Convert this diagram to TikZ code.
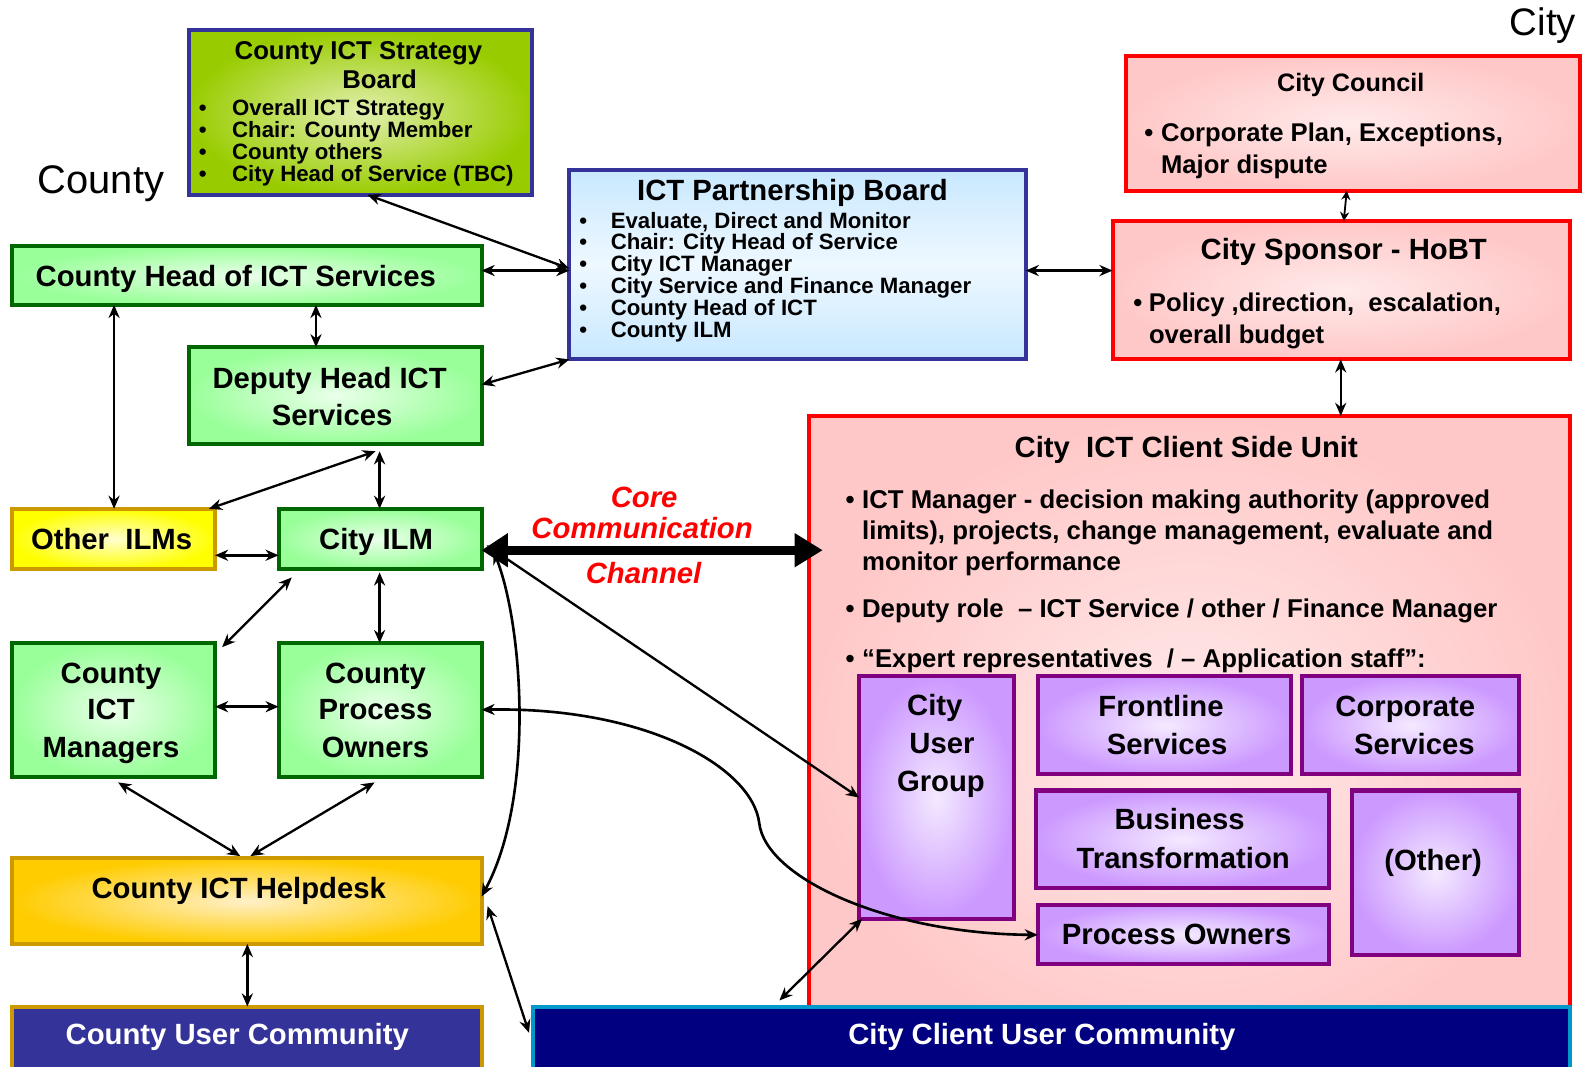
\documentclass[tikz,border=0pt]{standalone}
\usepackage{fontspec}
\setmainfont{Liberation Sans}
\usetikzlibrary{arrows.meta,calc}
\definecolor{grO}{HTML}{99FF99}
\definecolor{grI}{HTML}{EAFFEA}
\definecolor{grB}{HTML}{006600}
\definecolor{stO}{HTML}{99CC00}
\definecolor{stI}{HTML}{E2F0B0}
\definecolor{navB}{HTML}{333399}
\definecolor{blO}{HTML}{C8E8FF}
\definecolor{blI}{HTML}{EEF8FF}
\definecolor{pkO}{HTML}{FFC8C8}
\definecolor{pkI}{HTML}{FFEAEA}
\definecolor{rdB}{HTML}{FF0000}
\definecolor{puO}{HTML}{CC99FF}
\definecolor{puI}{HTML}{F4EAFF}
\definecolor{puB}{HTML}{800080}
\definecolor{yeO}{HTML}{FFFF00}
\definecolor{yeI}{HTML}{FFFFD0}
\definecolor{goO}{HTML}{FFCC00}
\definecolor{goI}{HTML}{FFF0C8}
\definecolor{goB}{HTML}{CC9900}
\definecolor{cucF}{HTML}{333399}
\definecolor{ccF}{HTML}{000080}
\definecolor{ccB}{HTML}{0099CC}
\definecolor{coreR}{HTML}{FF0000}
\newcommand\fsz[2]{\fontsize{#1pt}{#2pt}\selectfont}
\begin{document}
\begin{tikzpicture}[x=1pt,y=-1pt,
  >={Stealth[length=13pt,width=11pt]},
  box/.style={rectangle,anchor=north west,inner sep=0pt,outer sep=0pt,line width=4pt},
  greenbox/.style={box,draw=grB,inner color=grI,outer color=grO},
  stratbox/.style={box,draw=navB,inner color=stI,outer color=stO},
  bluebox/.style={box,draw=navB,top color=blO,bottom color=blO,middle color=blI},
  pinkbox/.style={box,draw=rdB,inner color=pkI,outer color=pkO},
  purplebox/.style={box,draw=puB,inner color=puI,outer color=puO},
  yellowbox/.style={box,draw=goB,inner color=yeI,outer color=yeO},
  goldbox/.style={box,draw=goB,inner color=goI,outer color=goO},
  txt/.style={inner sep=0pt,outer sep=0pt,anchor=base},
  blk/.style={inner sep=0pt,outer sep=0pt,anchor=north west,align=left},
  ttl/.style={txt,font=\bfseries\fsz{29}{37}},
  arr/.style={<->,line width=2.3pt},
  smallarr/.style={arrows={Stealth[length=9pt,width=9pt]-Stealth[length=9pt,width=9pt]},line width=1.8pt},
  core/.style={arrows={Triangle[length=26pt,width=32pt]-Triangle[length=28pt,width=32pt]},line width=9pt},
  corelbl/.style={txt,font=\bfseries\itshape\fsz{29}{37},text=coreR},
]
\path[use as bounding box] (0,0) rectangle (1568,1056);

% ---------- boxes ----------
\node[stratbox,minimum width=340pt,minimum height=163pt] (csb) at (187,30) {};
\node[bluebox,minimum width=452pt,minimum height=188pt] (ipb) at (564,168) {};
\node[pinkbox,minimum width=450pt,minimum height=134pt] (cc) at (1115,55) {};
\node[pinkbox,minimum width=453pt,minimum height=137pt] (cs) at (1102,219) {};
\node[pinkbox,minimum width=754pt,minimum height=640pt] (csu) at (801,412) {};
\node[purplebox,minimum width=153pt,minimum height=240pt] (cug) at (851,670) {};
\node[purplebox,minimum width=251pt,minimum height=97pt] (fs) at (1028,670) {};
\node[purplebox,minimum width=215pt,minimum height=97pt] (cps) at (1290,670) {};
\node[purplebox,minimum width=290pt,minimum height=97pt] (bt) at (1026,783) {};
\node[purplebox,minimum width=166pt,minimum height=163pt] (oth) at (1339,783) {};
\node[purplebox,minimum width=288pt,minimum height=59pt] (po) at (1028,896) {};
\node[box,draw=ccB,fill=ccF,minimum width=1027pt,minimum height=70pt] (ccuc) at (528,997) {};
\node[greenbox,minimum width=465pt,minimum height=58pt] (chead) at (12,244) {};
\node[greenbox,minimum width=290pt,minimum height=96pt] (dhead) at (187,344) {};
\node[yellowbox,minimum width=201pt,minimum height=60pt] (oilm) at (12,504) {};
\node[greenbox,minimum width=201pt,minimum height=60pt] (cilm) at (276,504) {};
\node[greenbox,minimum width=201pt,minimum height=133pt] (cim) at (12,637) {};
\node[greenbox,minimum width=201pt,minimum height=133pt] (cpo) at (276,637) {};
\node[goldbox,minimum width=465pt,minimum height=85pt] (help) at (12,850) {};
\node[box,draw=goB,fill=cucF,minimum width=465pt,minimum height=70pt] (cuc) at (12,997) {};

% ---------- texts ----------
\node[txt,font=\fsz{39.5}{45}] (tcounty) at (100,192) {County};
\node[txt,anchor=base east,font=\fsz{38}{44}] (tcity) at (1561,35) {City};

\node[txt,font=\bfseries\fsz{25.5}{30}] (t1) at (355,59) {County ICT Strategy};
\node[txt,font=\bfseries\fsz{25.5}{30}] (t2) at (376,88) {Board};
\node[blk,font=\bfseries\fsz{22}{22}] (t3) at (197,98) {\makebox[33pt][l]{•}Overall ICT Strategy\\\makebox[33pt][l]{•}Chair: County Member\\\makebox[33pt][l]{•}County others\\\makebox[33pt][l]{•}City Head of Service (TBC)};

\node[ttl] (t4) at (785,199) {ICT Partnership Board};
\node[blk,font=\bfseries\fsz{22}{21.6}] (t5) at (574,210) {\makebox[31pt][l]{•}Evaluate, Direct and Monitor\\\makebox[31pt][l]{•}Chair: City Head of Service\\\makebox[31pt][l]{•}City ICT Manager\\\makebox[31pt][l]{•}City Service and Finance Manager\\\makebox[31pt][l]{•}County Head of ICT\\\makebox[31pt][l]{•}County ILM};

\node[txt,font=\bfseries\fsz{25}{30}] (t6) at (1338,91) {City Council};
\node[blk,font=\bfseries\fsz{25.4}{32}] (t7) at (1133.5,121.5) {\makebox[16.5pt][l]{•}Corporate Plan, Exceptions,\\\hspace*{16.5pt}Major dispute};

\node[ttl] (t8) at (1331,257.5) {City Sponsor - HoBT};
\node[blk,font=\bfseries\fsz{25.4}{31}] (t9) at (1122.6,290.5) {\makebox[15.5pt][l]{•}Policy ,direction,~~escalation,\\\hspace*{15.5pt}overall budget};

\node[ttl] (t10) at (1175,453) {City~~ICT Client Side Unit};
\node[blk,font=\bfseries\fsz{25.5}{30.5}] (t11) at (837.5,485.4) {\makebox[16.5pt][l]{•}ICT Manager - decision making authority (approved\\\hspace*{16.5pt}limits), projects, change management, evaluate and\\\hspace*{16.5pt}monitor performance};
\node[txt,anchor=base west,font=\bfseries\fsz{25.5}{30.5}] (t12) at (837.5,612) {\makebox[16.5pt][l]{•}Deputy role~~– ICT Service / other / Finance Manager};
\node[txt,anchor=base west,font=\bfseries\fsz{25.5}{30.5}] (t13) at (837.5,661) {\makebox[16.5pt][l]{•}“Expert representatives~~/ – Application staff”:};

\node[ttl] (t14) at (926,709) {City};
\node[ttl] (t15) at (933,746) {User};
\node[ttl] (t16) at (932,784) {Group};
\node[ttl] (t17) at (1150,710) {Frontline};
\node[ttl] (t18) at (1156,747) {Services};
\node[ttl] (t19) at (1392,710) {Corporate};
\node[ttl] (t20) at (1401,747) {Services};
\node[ttl] (t21) at (1168.5,822) {Business};
\node[ttl] (t22) at (1172,860) {Transformation};
\node[ttl] (t23) at (1419.5,862) {(Other)};
\node[ttl] (t24) at (1165.5,936) {Process Owners};
\node[ttl,text=white] (t25) at (1032,1035) {City Client User Community};

\node[ttl] (t26) at (233.5,284) {County Head of ICT Services};
\node[ttl] (t27) at (326.5,385) {Deputy Head ICT};
\node[ttl] (t28) at (329,421) {Services};
\node[ttl] (t29) at (110.5,544) {Other~~ILMs};
\node[ttl] (t30) at (372.5,544) {City ILM};
\node[ttl] (t31) at (110,677) {County};
\node[ttl] (t32) at (110,713) {ICT};
\node[ttl] (t33) at (110,750) {Managers};
\node[ttl] (t34) at (372,677) {County};
\node[ttl] (t35) at (372,713) {Process};
\node[ttl] (t36) at (372,750) {Owners};
\node[ttl] (t37) at (236.5,889.5) {County ICT Helpdesk};
\node[ttl,text=white] (t38) at (235,1035) {County User Community};

\node[corelbl] (t39) at (638,503) {Core};
\node[corelbl] (t40) at (636,533) {Communication};
\node[corelbl] (t41) at (637.5,578) {Channel};

% ---------- connectors ----------
\draw[arr] (364,0 |- csb.south) -- (ipb.west |- 0,266);
\draw[arr,line width=3.2pt] (chead.east |- 0,268) -- (ipb.west |- 0,268);
\draw[arr] (dhead.east |- 0,381) -- (ipb.south west);
\draw[arr,line width=2.8pt] (ipb.east |- 0,268) -- (cs.west |- 0,268);
\draw[smallarr] (1334,0 |- cc.south) -- (1331,0 |- cs.north);
\draw[arr] (1328,0 |- cs.south) -- (1328,0 |- csu.north);
\draw[arr] (113,0 |- chead.south) -- (113,0 |- oilm.north);
\draw[arr] (313,0 |- chead.south) -- (313,0 |- dhead.north);
\draw[arr] ($(372,0 |- dhead.south)+(0,7)$) -- (207,0 |- oilm.north);
\draw[arr] ($(376,0 |- dhead.south)+(0,7)$) -- (376,0 |- cilm.north);
\draw[arr,line width=2.8pt] (oilm.east |- 0,550) -- (cilm.west |- 0,550);
\draw[arr] ($(cilm.south west)+(13,8)$) -- ($(cim.north east)+(7,4)$);
\draw[arr] ($(376,0 |- cilm.south)+(0,3)$) -- (376,0 |- cpo.north);
\draw[arr,line width=2.8pt] (cim.east |- 0,700) -- (cpo.west |- 0,700);
\draw[arr] ($(cim.south west)+(105,5)$) -- ($(help.north west)+(226,-2)$);
\draw[arr] ($(cpo.south west)+(95,5)$) -- ($(help.north west)+(236,-2)$);
\draw[arr] (245,0 |- help.south) -- (245,0 |- cuc.north);
\draw[arr] ($(cilm.east)+(5,6)$) -- (cug.west |- 0,790);
\draw[arr,line width=2.6pt] ($(cilm.east)+(12,12)$) .. controls (518,620) and (530,790) .. (help.east |- 0,888);
\draw[arr,line width=2.6pt] (cpo.east |- 0,703) .. controls (640,700) and (745,760) .. (752,815) .. controls (758,870) and (880,925) .. (po.west |- 0,926);
\draw[arr] ($(help.east)+(6,5)$) -- ($(ccuc.west)+(-4,-9)$);
\draw[arr] ($(cug.south west)+(3,0)$) -- ($(772,0 |- ccuc.north)+(0,-6)$);
\draw[core] (cilm.east |- 0,545) -- ($(csu.west |- 0,545)+(14,0)$);
\end{tikzpicture}
\end{document}
